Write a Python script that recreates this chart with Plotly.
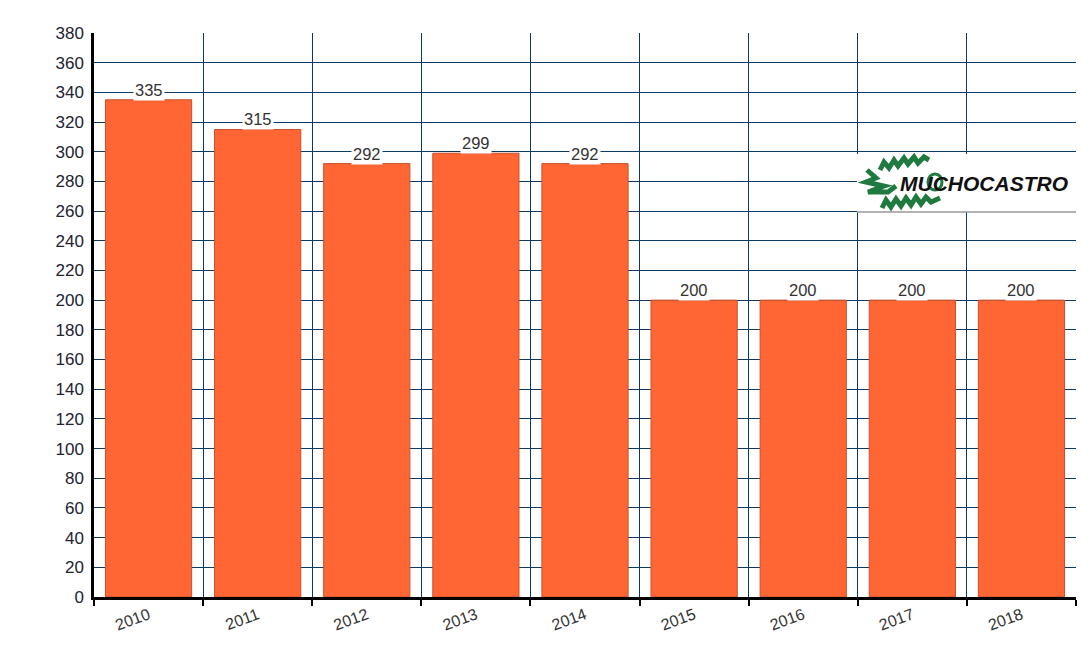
import plotly.graph_objects as go

years = ["2010", "2011", "2012", "2013", "2014", "2015", "2016", "2017", "2018"]
values = [335, 315, 292, 299, 292, 200, 200, 200, 200]
y_ticks = list(range(0, 381, 20))

W, H = 1092, 654
L, R, T, B = 94, 16, 33, 57
PW, PH = W - L - R, H - T - B
FONT = "Arial, 'Liberation Sans', sans-serif"

def px(x):
    return (x - L) / PW

def py(y):
    return (H - B - y) / PH

fig = go.Figure()
fig.add_trace(go.Bar(
    x=years, y=values, width=0.79,
    marker=dict(color="#FF6633", line=dict(color="#C8502A", width=1)),
    hoverinfo="x+y",
))

annotations = []
for i, (yr, v) in enumerate(zip(years, values)):
    annotations.append(dict(
        x=i, y=v, xref="x", yref="y", text=str(v), showarrow=False,
        yanchor="bottom", yshift=-1, bgcolor="white", borderpad=1,
        font=dict(family=FONT, size=16.5, color="#333333"),
    ))

# Logo box
shapes = [
    dict(type="rect", xref="paper", yref="paper", x0=px(857), x1=px(1076), y0=py(212), y1=py(154),
         fillcolor="white", line=dict(width=0), layer="above"),
    dict(type="line", xref="paper", yref="paper", x0=px(857), x1=px(1076), y0=py(212), y1=py(212),
         line=dict(color="#999999", width=1.5), layer="above"),
]

def zig(points, w=5):
    d = "M " + " L ".join(f"{px(x):.5f},{py(y):.5f}" for x, y in points)
    return dict(type="path", xref="paper", yref="paper", path=d,
                line=dict(color="#1E7A3E", width=w), layer="above")

shapes.append(zig([(880, 170), (884, 162), (889, 168), (894, 160), (898, 166), (904, 158), (908, 164),
                   (914, 157), (918, 163), (924, 157), (929, 160)]))
shapes.append(zig([(867, 170), (876, 178), (866, 182), (884, 186), (868, 192), (888, 192), (896, 186)]))
shapes.append(zig([(882, 208), (886, 200), (891, 207), (896, 199), (901, 206), (906, 198), (911, 205),
                   (916, 197), (921, 204), (926, 197), (931, 202), (940, 198)]))
shapes.append(dict(type="circle", xref="paper", yref="paper", x0=px(928), x1=px(942), y0=py(190), y1=py(174),
                   line=dict(color="#1E7A3E", width=3), layer="above"))

annotations.append(dict(
    x=px(984), y=py(184), xref="paper", yref="paper", text="<b><i>MUCHOCASTRO</i></b>",
    showarrow=False, xanchor="center", yanchor="middle",
    font=dict(family=FONT, size=21, color="#111111"),
))

fig.update_layout(
    width=W, height=H,
    margin=dict(l=L, r=R, t=T, b=B),
    paper_bgcolor="white", plot_bgcolor="white",
    showlegend=False,
    annotations=annotations,
    shapes=shapes,
    xaxis=dict(
        type="category", tickson="boundaries", showgrid=True, gridcolor="#0B3A66", gridwidth=1,
        ticks="outside", ticklen=6, tickcolor="#000000", tickwidth=1.5,
        showline=True, linecolor="#000000", linewidth=2.5,
        tickangle=-20,
        tickfont=dict(family=FONT, size=16, color="#333333"),
        range=[-0.5, 8.5],
    ),
    yaxis=dict(
        range=[0, 380], tickvals=y_ticks, ticktext=[str(t) for t in y_ticks],
        showgrid=True, gridcolor="#0B3A66", gridwidth=1,
        showline=True, linecolor="#000000", linewidth=2.5,
        ticks="", ticklabelstandoff=4,
        tickfont=dict(family=FONT, size=17, color="#222233"),
        zeroline=False,
    ),
)

fig.write_html("out.html")
